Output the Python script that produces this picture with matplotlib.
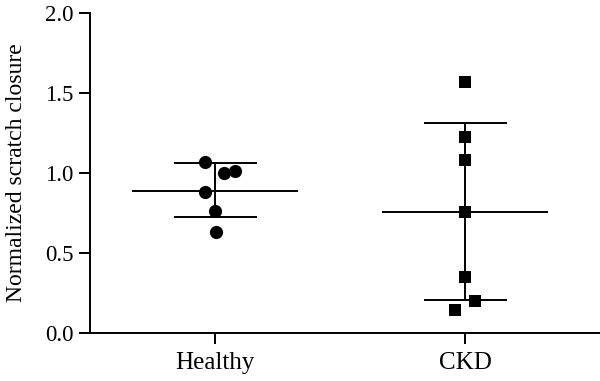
import matplotlib
matplotlib.use("Agg")
import matplotlib.pyplot as plt
import numpy as np

plt.rcParams['font.family'] = ['Liberation Serif', 'DejaVu Serif']

categories = ["Healthy", "CKD"]
healthy_vals = [1.067, 0.998, 1.014, 0.883, 0.764, 0.629]
healthy_jitter = [-0.04, 0.036, 0.08, -0.04, 0.0, 0.004]
ckd_vals = [1.571, 1.227, 1.081, 0.754, 0.348, 0.202, 0.144]
ckd_jitter = [0.0, 0.0, 0.0, 0.0, 0.0, 0.04, -0.04]
means = [0.8875, 0.758]
upper = [1.06, 1.3125]
lower = [0.723, 0.206]
yticks = [0.0, 0.5, 1.0, 1.5, 2.0]

fig = plt.figure(figsize=(6, 3.81), dpi=100)
ax = fig.add_axes([0.15, 0.126, 0.85, 0.84])

xs = np.arange(len(categories))
ax.scatter(xs[0] + np.array(healthy_jitter), healthy_vals, marker='o', s=90,
           color='black', zorder=3, linewidths=0)
ax.scatter(xs[1] + np.array(ckd_jitter), ckd_vals, marker='s', s=85,
           color='black', zorder=3, linewidths=0)

for i in range(len(categories)):
    ax.hlines(means[i], xs[i] - 0.333, xs[i] + 0.333, color='black', lw=1.4, zorder=2)
    ax.vlines(xs[i], lower[i], upper[i], color='black', lw=1.4, zorder=2)
    ax.hlines([lower[i], upper[i]], xs[i] - 0.166, xs[i] + 0.166, color='black', lw=1.4, zorder=2)

ax.set_xlim(-0.5, 1.54)
ax.set_ylim(0, 2.0)
ax.set_yticks(yticks)
ax.set_yticklabels([f"{v:.1f}" for v in yticks])
ax.set_xticks(xs)
ax.set_xticklabels(categories)
ax.spines['top'].set_visible(False)
ax.spines['right'].set_visible(False)
for s in ['left', 'bottom']:
    ax.spines[s].set_linewidth(1.4)
ax.tick_params(axis='y', direction='out', length=8, width=1.4, labelsize=16.5, pad=4)
ax.tick_params(axis='x', direction='out', length=8, width=1.4, labelsize=18, pad=6)
ax.set_ylabel("Normalized scratch closure", fontsize=17, labelpad=13)

fig.savefig("out.png", dpi=100)
